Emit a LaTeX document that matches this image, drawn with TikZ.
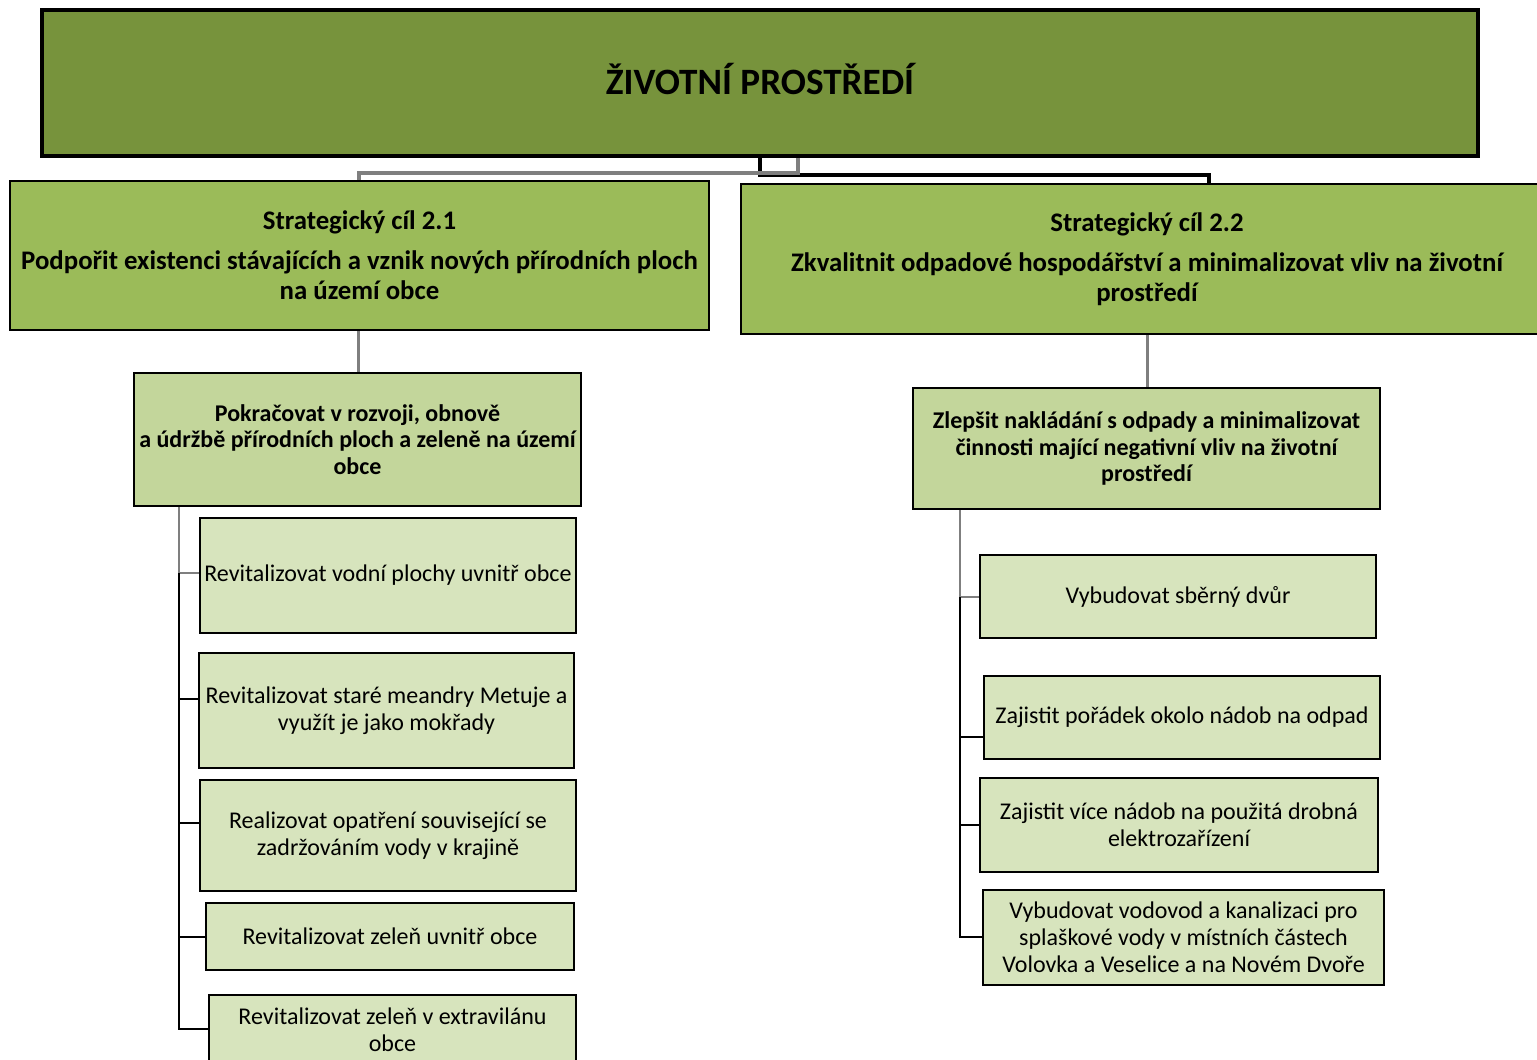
\documentclass[tikz,border=0pt]{standalone}
\usepackage{fontspec}
\setmainfont{Carlito}
\definecolor{topfill}{HTML}{77933C}
\definecolor{scfill}{HTML}{9BBB59}
\definecolor{subfill}{HTML}{C3D69B}
\definecolor{itemfill}{HTML}{D7E4BD}
\definecolor{lgray}{HTML}{7F7F7F}
\begin{document}
\begin{tikzpicture}[x=0.5pt,y=-0.5pt,
  basebox/.style={draw=black,rectangle,inner sep=0pt,align=center,line width=1pt},
  topbox/.style={basebox,fill=topfill,line width=1.75pt,font=\fontsize{18.6}{22}\selectfont\bfseries},
  scbox/.style={basebox,fill=scfill,font=\fontsize{13.4}{15}\selectfont\bfseries},
  subbox/.style={basebox,fill=subfill,font=\fontsize{12}{13.3}\selectfont\bfseries},
  itembox/.style={basebox,fill=itemfill,font=\fontsize{12}{13.5}\selectfont},
  grayline/.style={draw=lgray,line width=2.2pt},
  blackline/.style={draw=black,line width=2.4pt},
  grayleaf/.style={draw=lgray,line width=1.2pt},
  blackleaf/.style={draw=black,line width=1.2pt}]
\useasboundingbox (0,0) rectangle (1537,1060);

\node[topbox,minimum width=718pt,minimum height=73pt,text height=14pt,text depth=3pt] (top) at (760,83) {ŽIVOTNÍ PROSTŘEDÍ};

\node[scbox,minimum width=349.5pt,minimum height=74.5pt] (sc1) at (359.5,255.5)
  {Strategický cíl 2.1\\[5pt]Podpořit existenci stávajících a vznik nových přírodních ploch\\na území obce};
\node[scbox,minimum width=406pt,minimum height=75pt] (sc2) at (1147,259)
  {Strategický cíl 2.2\\[5pt]Zkvalitnit odpadové hospodářství a minimalizovat vliv na životní\\prostředí};

\node[subbox,minimum width=223.5pt,minimum height=66.5pt] (ls) at (357.5,439.5)
  {Pokračovat v rozvoji, obnově\\a údržbě přírodních ploch a zeleně na území\\obce};
\node[subbox,minimum width=233.5pt,minimum height=60.5pt] (rs) at (1146.5,448.5)
  {Zlepšit nakládání s odpady a minimalizovat\\činnosti mající negativní vliv na životní\\prostředí};

\node[itembox,minimum width=188pt,minimum height=57.5pt] (l1) at (388,575.5)
  {Revitalizovat vodní plochy uvnitř obce};
\node[itembox,minimum width=187.5pt,minimum height=57.5pt] (l2) at (386.5,710.5)
  {Revitalizovat staré meandry Metuje a\\využít je jako mokřady};
\node[itembox,minimum width=188pt,minimum height=55.5pt] (l3) at (388,835.5)
  {Realizovat opatření související se\\zadržováním vody v krajině};
\node[itembox,minimum width=184pt,minimum height=33.5pt] (l4) at (390,936.5)
  {Revitalizovat zeleň uvnitř obce};
\node[itembox,minimum width=183.5pt,minimum height=35pt] (l5) at (392.5,1030)
  {Revitalizovat zeleň v extravilánu\\obce};

\node[itembox,minimum width=198pt,minimum height=41.5pt] (r1) at (1178,596.5)
  {Vybudovat sběrný dvůr};
\node[itembox,minimum width=198pt,minimum height=41.5pt] (r2) at (1182,717.5)
  {Zajistit pořádek okolo nádob na odpad};
\node[itembox,minimum width=199pt,minimum height=47pt] (r3) at (1179,825)
  {Zajistit více nádob na použitá drobná\\elektrozařízení};
\node[itembox,minimum width=200.5pt,minimum height=47.5pt] (r4) at (1183.5,937.5)
  {Vybudovat vodovod a kanalizaci pro\\splaškové vody v místních částech\\Volovka a Veselice a na Novém Dvoře};

% top connectors
\coordinate (jg) at (798,173);
\coordinate (jgl) at (359,173);
\coordinate (jb) at (760,175);
\coordinate (jbr) at (1209,175);
\draw[blackline] (top.south -| jb) -- (jb) -- (jbr) -- (sc2.north -| jbr);
\draw[grayline] (top.south -| jg) -- (jg) -- (jgl) -- (sc1.north -| jgl);

% second level
\coordinate (ml) at (358,340);
\coordinate (mr) at (1147,340);
\draw[grayleaf,line width=1.5pt] (sc1.south -| ml) -- (ls.north -| ml);
\draw[grayleaf,line width=1.5pt] (sc2.south -| mr) -- (rs.north -| mr);

% left tree
\coordinate (tl) at (179,506);
\coordinate (bl1) at (179,573);
\coordinate (bl2) at (179,699);
\coordinate (bl3) at (179,823);
\coordinate (bl4) at (179,937);
\coordinate (bl5) at (179,1029);
\draw[grayleaf] (ls.south -| tl) -- (bl1) -- (bl1 -| l1.west);
\draw[blackleaf] (bl1) -- (bl5) -- (bl5 -| l5.west);
\draw[blackleaf] (bl2) -- (bl2 -| l2.west);
\draw[blackleaf] (bl3) -- (bl3 -| l3.west);
\draw[blackleaf] (bl4) -- (bl4 -| l4.west);

% right tree
\coordinate (tr) at (960,509);
\coordinate (br1) at (960,597);
\coordinate (br2) at (960,737);
\coordinate (br3) at (960,825);
\coordinate (br4) at (960,937);
\draw[grayleaf] (rs.south -| tr) -- (br1) -- (br1 -| r1.west);
\draw[blackleaf] (br1) -- (br4) -- (br4 -| r4.west);
\draw[blackleaf] (br2) -- (br2 -| r2.west);
\draw[blackleaf] (br3) -- (br3 -| r3.west);
\end{tikzpicture}
\end{document}
